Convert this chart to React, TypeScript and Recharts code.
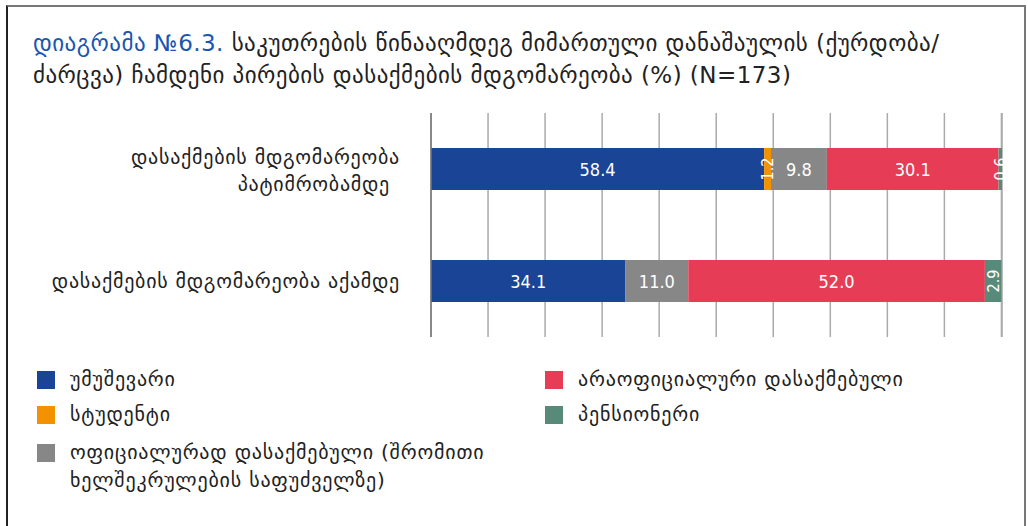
import { BarChart, Bar, XAxis, YAxis, CartesianGrid, LabelList } from "recharts";

const categories = [
  "დასაქმების მდგომარეობა პატიმრობამდე",
  "დასაქმების მდგომარეობა აქამდე",
];

const seriesNames = [
  "უმუშევარი",
  "სტუდენტი",
  "ოფიციალურად დასაქმებული (შრომითი ხელშეკრულების საფუძველზე)",
  "არაოფიციალური დასაქმებული",
  "პენსიონერი",
];

const unemployed = [58.4, 34.1];
const students = [1.2, 0];
const formal = [9.8, 11.0];
const informal = [30.1, 52.0];
const pensioners = [0.6, 2.9];

const xTicks = [0, 10, 20, 30, 40, 50, 60, 70, 80, 90, 100];

const colors = ["#1a4596", "#f39200", "#878787", "#e73c55", "#588a7a"];
const keys = ["s0", "s1", "s2", "s3", "s4"];
const seriesValues = [unemployed, students, formal, informal, pensioners];

const data = categories.map((name, i) => {
  const row: Record<string, string | number> = { name };
  seriesValues.forEach((vals, s) => {
    row[keys[s]] = vals[i];
  });
  return row;
});

const FONT = "'DejaVu Sans', sans-serif";
const NUM_FONT = "'DejaVu Sans Condensed', 'DejaVu Sans', sans-serif";

function CategoryTick(props: any) {
  const { y, payload } = props;
  const text: string = payload.value;
  const common = { textAnchor: "end" as const, fontSize: 20, fill: "#222", fontFamily: FONT, letterSpacing: 0.75 };
  if (text.length > 32) {
    const cut = text.lastIndexOf(" ");
    return (
      <g>
        <text x={400} y={y - 5} {...common}>
          {text.slice(0, cut)}
        </text>
        <text x={390} y={y + 22} {...common}>
          {text.slice(cut + 1)}
        </text>
      </g>
    );
  }
  return (
    <text x={400} y={y + 7} {...common}>
      {text}
    </text>
  );
}

function ValueLabel(props: any) {
  const { x, y, width, height, value } = props;
  if (!value) return null;
  const cx = x + width / 2;
  const cy = y + height / 2;
  const txt = Number(value).toFixed(1);
  const rotate = value < 3;
  return (
    <text
      x={cx}
      y={cy}
      transform={rotate ? `rotate(-90 ${cx} ${cy})` : undefined}
      textAnchor="middle"
      dominantBaseline="central"
      fontSize={rotate ? 16 : 18}
      fill="#fff"
      fontFamily={NUM_FONT}
    >
      {txt}
    </text>
  );
}

function LegendItem({ color, label, x, y }: { color: string; label: string; x: number; y: number }) {
  return (
    <div style={{ position: "absolute", left: x, top: y, display: "flex", alignItems: "flex-start" }}>
      <div style={{ width: 18, height: 18, background: color, marginTop: 1, flex: "none" }} />
      <div
        style={{
          marginLeft: 15,
          fontSize: 20,
          lineHeight: "28px",
          marginTop: -5,
          color: "#222",
          fontFamily: FONT,
          letterSpacing: 0.8,
          width: 440,
        }}
      >
        {label}
      </div>
    </div>
  );
}

export default function App() {
  const legendPos = [
    { x: 37, y: 370 },
    { x: 37, y: 405 },
    { x: 37, y: 443 },
    { x: 545, y: 370 },
    { x: 545, y: 405 },
  ];
  return (
    <div
      style={{
        position: "absolute",
        left: 0,
        top: 0,
        width: 1028,
        height: 526,
        overflow: "hidden",
        background: "#fff",
        fontFamily: FONT,
        boxSizing: "border-box",
      }}
    >
      <div
        style={{
          position: "absolute",
          left: 6,
          top: 5,
          right: 2,
          bottom: -10,
          borderTop: "2px solid #777",
          borderLeft: "2px solid #222",
          borderRight: "2px solid #777",
        }}
      />
      <div
        style={{
          position: "absolute",
          left: 33,
          top: 27,
          fontSize: 23,
          lineHeight: "32px",
          color: "#222",
          whiteSpace: "nowrap",
          letterSpacing: 0.45,
        }}
      >
        <div>
          <span style={{ color: "#1a56b0" }}>დიაგრამა №6.3.</span> საკუთრების წინააღმდეგ მიმართული
          დანაშაულის (ქურდობა/
        </div>
        <div>ძარცვა) ჩამდენი პირების დასაქმების მდგომარეობა (%) (N=173)</div>
      </div>

      <div style={{ position: "absolute", left: 0, top: 0 }}>
        <BarChart
          width={1028}
          height={526}
          layout="vertical"
          data={data}
          margin={{ top: 113, right: 26, bottom: 188, left: 0 }}
        >
          <CartesianGrid horizontal={false} vertical stroke="#aaa" strokeWidth={1.5} />
          <XAxis
            type="number"
            domain={[0, 100]}
            ticks={xTicks}
            axisLine={false}
            tickLine={false}
            tick={{ fill: "transparent", fontSize: 1 }}
            height={1}
          />
          <YAxis
            type="category"
            dataKey="name"
            width={431}
            axisLine={{ stroke: "#777", strokeWidth: 1.5 }}
            tickLine={false}
            tick={<CategoryTick />}
          />
          {keys.map((k, i) => (
            <Bar
              key={k}
              dataKey={k}
              name={seriesNames[i]}
              stackId="a"
              fill={colors[i]}
              barSize={42}
              isAnimationActive={false}
            >
              <LabelList dataKey={k} content={<ValueLabel />} />
            </Bar>
          ))}
        </BarChart>
      </div>

      {seriesNames.map((n, i) => (
        <LegendItem key={n} color={colors[i]} label={n} x={legendPos[i].x} y={legendPos[i].y} />
      ))}
    </div>
  );
}
